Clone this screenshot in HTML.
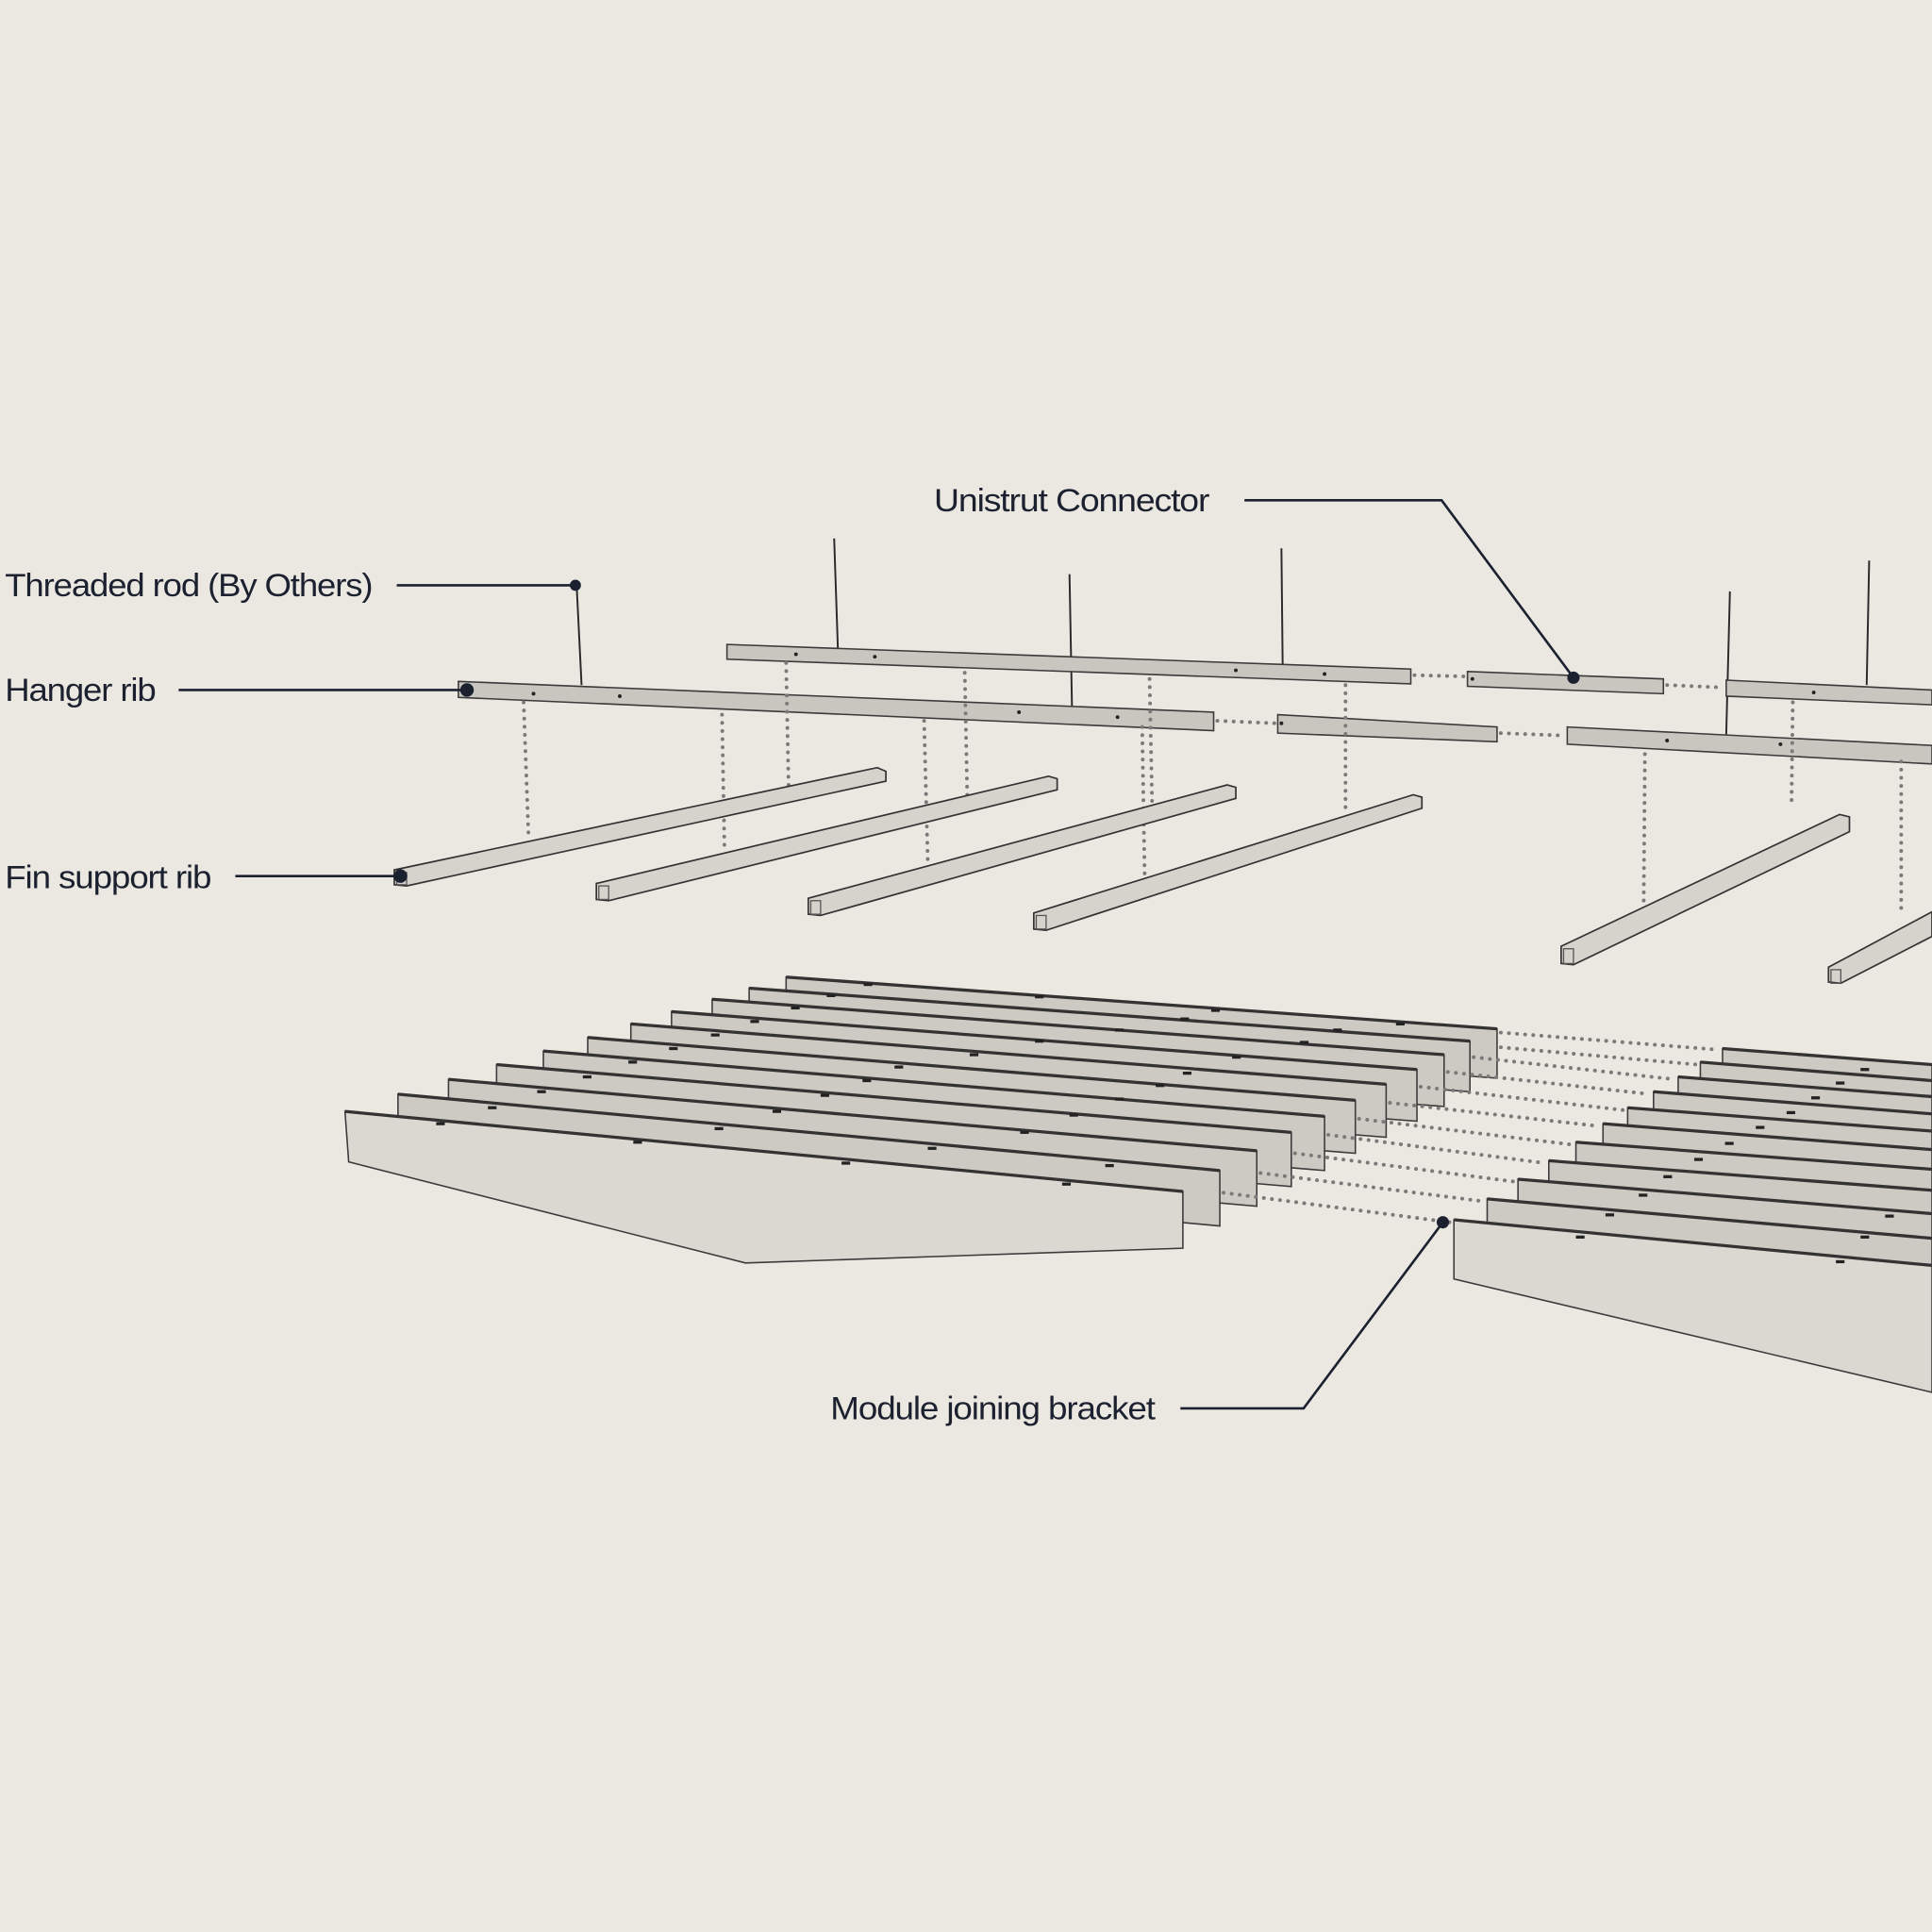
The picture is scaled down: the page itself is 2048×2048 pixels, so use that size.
<!DOCTYPE html>
<html><head><meta charset="utf-8"><style>
html,body{margin:0;padding:0;background:#ebe7e1;}
svg{display:block;}
text{font-family:"Liberation Sans",sans-serif;fill:#1c2130;font-size:26px;letter-spacing:-0.8px;}
</style></head><body>
<svg width="2048" height="2048" viewBox="0 0 1568 1568" xmlns="http://www.w3.org/2000/svg">
<rect width="1568" height="1568" fill="#ebe7e1"/>

<!-- threaded rods -->
<g stroke="#2a2a2a" stroke-width="1.5">
<line x1="468" y1="475" x2="472" y2="556"/>
<line x1="677" y1="437" x2="680" y2="526"/>
<line x1="868" y1="466" x2="870" y2="573"/>
<line x1="1040" y1="445" x2="1041" y2="540"/>
<line x1="1404" y1="480" x2="1401" y2="596"/>
<line x1="1517" y1="455" x2="1515" y2="556"/>
</g>

<!-- hanger ribs -->
<g fill="#c9c5bf" stroke="#3a3a3a" stroke-width="1.2">
<polygon points="590,523 1145,543 1145,555 590,535"/>
<polygon points="372,553 985,578 985,593 372,566"/>
<polygon points="1037,580 1215,590 1215,602 1037,595"/>
<polygon points="1191,545 1350,551 1350,563 1191,557"/>
<polygon points="1401,552 1568,560 1568,572 1401,565"/>
<polygon points="1272,590 1568,605 1568,620 1272,604"/>
</g>
<g fill="#222">
<circle cx="433" cy="563" r="1.5"/><circle cx="503" cy="565" r="1.5"/><circle cx="827" cy="578" r="1.5"/><circle cx="907" cy="582" r="1.5"/>
<circle cx="646" cy="531" r="1.5"/><circle cx="710" cy="533" r="1.5"/><circle cx="1003" cy="544" r="1.5"/><circle cx="1075" cy="547" r="1.5"/>
<circle cx="1353" cy="601" r="1.5"/><circle cx="1445" cy="604" r="1.5"/><circle cx="1472" cy="562" r="1.5"/><circle cx="1040" cy="587" r="1.5"/><circle cx="1195" cy="551" r="1.5"/>
</g>

<!-- dotted connectors -->
<g stroke="#7a7a7a" stroke-width="3" stroke-dasharray="0.1 6.5" stroke-linecap="round" fill="none">
<line x1="425" y1="570" x2="429" y2="680"/>
<line x1="586" y1="580" x2="588" y2="690"/>
<line x1="638" y1="538" x2="640" y2="637"/>
<line x1="750" y1="585" x2="753" y2="700"/>
<line x1="783" y1="546" x2="785" y2="645"/>
<line x1="927" y1="590" x2="929" y2="710"/>
<line x1="933" y1="551" x2="935" y2="650"/>
<line x1="1092" y1="556" x2="1092" y2="660"/>
<line x1="1335" y1="612" x2="1334" y2="735"/>
<line x1="1455" y1="570" x2="1454" y2="650"/>
<line x1="1543" y1="618" x2="1543" y2="740"/>
<line x1="988" y1="585" x2="1035" y2="587"/>
<line x1="1218" y1="595" x2="1270" y2="597"/>
<line x1="1148" y1="548" x2="1189" y2="549"/>
<line x1="1353" y1="556" x2="1399" y2="558"/>
</g>

<!-- fin support ribs -->
<g fill="#d6d2cc" stroke="#333" stroke-width="1.3">
<polygon points="320,706 712,623 719,626 719,634 330,719 320,718"/>
<polygon points="484,717 851,630 858,632 858,641 494,731 484,730"/>
<polygon points="656,729 996,637 1003,639 1003,648 666,743 656,742"/>
<polygon points="839,741 1147,645 1154,647 1154,656 849,755 839,754"/>
<polygon points="1267,768 1493,661 1501,663 1501,675 1277,783 1267,782"/>
<polygon points="1484,785 1568,740 1568,760 1494,798 1484,797"/>
</g>
<g fill="none" stroke="#555" stroke-width="1">
<rect x="322" y="708" width="8" height="10"/><rect x="486" y="719" width="8" height="11"/><rect x="658" y="731" width="8" height="11"/><rect x="841" y="743" width="8" height="11"/><rect x="1269" y="770" width="8" height="12"/><rect x="1486" y="787" width="8" height="11"/>
</g>

<!-- left module fins (back to front) -->
<g stroke="#3a3a3a" stroke-width="1.2" fill="#cdc9c3">
<polygon points="638,793 1215,835 1215,875 638,833"/>
<polygon points="608,802 1193,845 1193,886 608,843"/>
<polygon points="578,811 1172,856 1172,898 578,853"/>
<polygon points="545,821 1150,868 1150,910 545,863"/>
<polygon points="512,831 1125,880 1125,923 512,874"/>
<polygon points="477,842 1100,893 1100,936 477,885"/>
<polygon points="441,853 1075,906 1075,950 441,897"/>
<polygon points="403,864 1048,919 1048,963 403,908"/>
<polygon points="364,876 1020,934 1020,979 364,921"/>
<polygon points="323,888 990,950 990,995 323,933"/>
<polygon points="280,902 960,967 960,1013 605,1025 283,943" fill="#dbd7d1"/>
</g>
<g stroke="#333" stroke-width="2.5" fill="none">
<polyline points="638,793 1215,835"/><polyline points="608,802 1193,845"/><polyline points="578,811 1172,856"/><polyline points="545,821 1150,868"/><polyline points="512,831 1125,880"/><polyline points="477,842 1100,893"/><polyline points="441,853 1075,906"/><polyline points="403,864 1048,919"/><polyline points="364,876 1020,934"/><polyline points="323,888 990,950"/><polyline points="280,902 960,967"/>
</g>
<g stroke="#222" stroke-width="2.5">
<line x1="354" y1="912" x2="361" y2="912"/><line x1="514" y1="927" x2="521" y2="927"/><line x1="683" y1="944" x2="690" y2="944"/><line x1="862" y1="961" x2="869" y2="961"/>
<line x1="396" y1="899" x2="403" y2="899"/><line x1="580" y1="916" x2="587" y2="916"/><line x1="753" y1="932" x2="760" y2="932"/><line x1="897" y1="946" x2="904" y2="946"/>
<line x1="436" y1="886" x2="443" y2="886"/><line x1="627" y1="902" x2="634" y2="902"/><line x1="828" y1="919" x2="835" y2="919"/>
<line x1="473" y1="874" x2="480" y2="874"/><line x1="666" y1="889" x2="673" y2="889"/><line x1="868" y1="905" x2="875" y2="905"/>
<line x1="510" y1="862" x2="517" y2="862"/><line x1="700" y1="877" x2="707" y2="877"/><line x1="905" y1="892" x2="912" y2="892"/>
<line x1="543" y1="851" x2="550" y2="851"/><line x1="726" y1="866" x2="733" y2="866"/><line x1="938" y1="881" x2="945" y2="881"/>
<line x1="577" y1="840" x2="584" y2="840"/><line x1="787" y1="856" x2="794" y2="856"/><line x1="960" y1="871" x2="967" y2="871"/>
<line x1="609" y1="829" x2="616" y2="829"/><line x1="840" y1="845" x2="847" y2="845"/><line x1="1000" y1="858" x2="1007" y2="858"/>
<line x1="642" y1="818" x2="649" y2="818"/><line x1="905" y1="836" x2="912" y2="836"/><line x1="1055" y1="846" x2="1062" y2="846"/>
<line x1="671" y1="808" x2="678" y2="808"/><line x1="958" y1="827" x2="965" y2="827"/><line x1="1082" y1="836" x2="1089" y2="836"/>
<line x1="701" y1="799" x2="708" y2="799"/><line x1="840" y1="809" x2="847" y2="809"/><line x1="983" y1="820" x2="990" y2="820"/><line x1="1133" y1="831" x2="1140" y2="831"/>
</g>

<!-- right module fins -->
<g stroke="#3a3a3a" stroke-width="1.2" fill="#cdc9c3">
<polygon points="1398,851 1568,864 1568,904 1398,891"/>
<polygon points="1380,862 1568,877 1568,917 1380,902"/>
<polygon points="1362,874 1568,890 1568,930 1362,914"/>
<polygon points="1342,886 1568,904 1568,944 1342,926"/>
<polygon points="1321,899 1568,918 1568,958 1321,939"/>
<polygon points="1301,912 1568,933 1568,973 1301,952"/>
<polygon points="1279,927 1568,949 1568,989 1279,967"/>
<polygon points="1257,942 1568,966 1568,1006 1257,982"/>
<polygon points="1232,957 1568,985 1568,1025 1232,997"/>
<polygon points="1207,973 1568,1005 1568,1045 1207,1013"/>
<polygon points="1180,990 1568,1027 1568,1130 1180,1038" fill="#dbd7d1"/>
</g>
<g stroke="#333" stroke-width="2.5" fill="none">
<polyline points="1398,851 1568,864"/><polyline points="1380,862 1568,877"/><polyline points="1362,874 1568,890"/><polyline points="1342,886 1568,904"/><polyline points="1321,899 1568,918"/><polyline points="1301,912 1568,933"/><polyline points="1279,927 1568,949"/><polyline points="1257,942 1568,966"/><polyline points="1232,957 1568,985"/><polyline points="1207,973 1568,1005"/><polyline points="1180,990 1568,1027"/>
</g>
<g stroke="#222" stroke-width="2.5">
<line x1="1279" y1="1004" x2="1286" y2="1004"/><line x1="1490" y1="1024" x2="1497" y2="1024"/>
<line x1="1303" y1="986" x2="1310" y2="986"/><line x1="1510" y1="1004" x2="1517" y2="1004"/>
<line x1="1330" y1="970" x2="1337" y2="970"/><line x1="1530" y1="987" x2="1537" y2="987"/>
<line x1="1350" y1="955" x2="1357" y2="955"/><line x1="1375" y1="941" x2="1382" y2="941"/><line x1="1400" y1="928" x2="1407" y2="928"/><line x1="1425" y1="915" x2="1432" y2="915"/><line x1="1450" y1="903" x2="1457" y2="903"/><line x1="1470" y1="891" x2="1477" y2="891"/><line x1="1490" y1="879" x2="1497" y2="879"/><line x1="1510" y1="868" x2="1517" y2="868"/>
</g>

<!-- dotted module joins -->
<g stroke="#7a7a7a" stroke-width="3" stroke-dasharray="0.1 6.5" stroke-linecap="round" fill="none">
<line x1="1218" y1="838" x2="1395" y2="852"/>
<line x1="1218" y1="850" x2="1377" y2="864"/>
<line x1="1196" y1="858" x2="1359" y2="876"/>
<line x1="1175" y1="870" x2="1339" y2="888"/>
<line x1="1153" y1="882" x2="1318" y2="901"/>
<line x1="1128" y1="895" x2="1298" y2="914"/>
<line x1="1103" y1="908" x2="1276" y2="929"/>
<line x1="1078" y1="921" x2="1254" y2="944"/>
<line x1="1051" y1="936" x2="1229" y2="959"/>
<line x1="1023" y1="952" x2="1204" y2="975"/>
<line x1="993" y1="968" x2="1177" y2="992"/>
</g>

<!-- labels & leaders -->
<g stroke="#1c2130" stroke-width="2" fill="none">
<line x1="322" y1="475" x2="467" y2="475"/>
<line x1="145" y1="560" x2="379" y2="560"/>
<line x1="191" y1="711" x2="325" y2="711"/>
<polyline points="1010,406 1170,406 1277,550"/>
<polyline points="958,1143 1058,1143 1171,992"/>
</g>
<g fill="#1c2130">
<circle cx="467" cy="475" r="4.5"/><circle cx="379" cy="560" r="5.5"/><circle cx="325" cy="711" r="5.5"/><circle cx="1277" cy="550" r="5"/><circle cx="1171" cy="992" r="5"/>
</g>
<text x="4" y="484" textLength="298" lengthAdjust="spacingAndGlyphs">Threaded rod (By Others)</text>
<text x="4" y="569" textLength="122" lengthAdjust="spacingAndGlyphs">Hanger rib</text>
<text x="4" y="721" textLength="167" lengthAdjust="spacingAndGlyphs">Fin support rib</text>
<text x="758" y="415" textLength="223" lengthAdjust="spacingAndGlyphs">Unistrut Connector</text>
<text x="674" y="1152" textLength="263" lengthAdjust="spacingAndGlyphs">Module joining bracket</text>
</svg>
</body></html>
